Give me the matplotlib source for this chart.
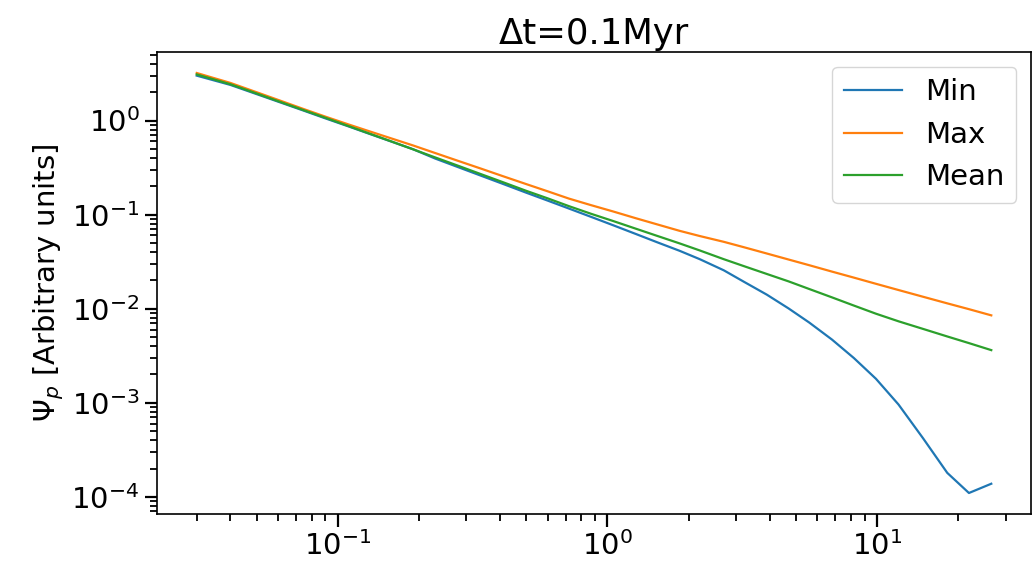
import matplotlib
matplotlib.use("Agg")
import matplotlib.pyplot as plt

x = [0.03, 0.04, 0.05, 0.06, 0.075, 0.09, 0.11, 0.13, 0.16, 0.19, 0.23, 0.28,
     0.34, 0.41, 0.5, 0.6, 0.72, 0.87, 1.05, 1.27, 1.53, 1.85, 2.2, 2.7,
     3.2, 3.9, 4.7, 5.6, 6.8, 8.2, 9.9, 12.0, 14.8, 18.2, 21.9, 26.5]

psi_min = [3.00, 2.39, 1.91, 1.59, 1.27, 1.054, 0.863, 0.728, 0.590, 0.496, 0.394, 0.319,
           0.259, 0.212, 0.171, 0.141, 0.116, 0.0946, 0.0771, 0.0625, 0.0508, 0.0413, 0.0336, 0.0256,
           0.0194, 0.0141, 0.01005, 0.00713, 0.00470, 0.00299, 0.00180, 9.6e-4, 4.2e-4, 1.8e-4, 1.1e-4, 1.38e-4]

psi_max = [3.20, 2.51, 2.00, 1.66, 1.32, 1.10, 0.906, 0.774, 0.638, 0.544, 0.451, 0.372,
           0.308, 0.256, 0.211, 0.177, 0.148, 0.126, 0.108, 0.0918, 0.0787, 0.0673, 0.0592, 0.0514,
           0.0451, 0.0386, 0.0333, 0.0290, 0.0248, 0.0214, 0.0184, 0.0158, 0.0134, 0.0114, 0.00989, 0.0085]

psi_mean = [3.09, 2.43, 1.94, 1.61, 1.285, 1.07, 0.871, 0.733, 0.592, 0.495, 0.405, 0.330,
            0.269, 0.221, 0.179, 0.149, 0.123, 0.102, 0.0855, 0.0711, 0.0594, 0.0495, 0.0416, 0.0336,
            0.0284, 0.0234, 0.0195, 0.0162, 0.0132, 0.0108, 0.00885, 0.00735, 0.00610, 0.00507, 0.00431, 0.00363]

W, H = 1032, 567
fig = plt.figure(figsize=(W / 100, H / 100), dpi=100)
ax = fig.add_axes([157 / W, (H - 514) / H, (1031 - 157) / W, (514 - 52) / H])

ax.plot(x, psi_min, color="#1f77b4", lw=1.6, label="Min")
ax.plot(x, psi_max, color="#ff7f0e", lw=1.6, label="Max")
ax.plot(x, psi_mean, color="#2ca02c", lw=1.6, label="Mean")
ax.set_xscale("log")
ax.set_yscale("log")

fs = 21
ax.set_title("Δt=0.1Myr", fontsize=25.5, pad=6)
ax.set_ylabel(r"$\Psi_p$ [Arbitrary units]", fontsize=fs)
ax.tick_params(which="major", length=9, width=1.6, labelsize=fs)
ax.tick_params(which="minor", length=5, width=1.3)
for s in ax.spines.values():
    s.set_linewidth(1.2)

ax.legend(loc="upper right", fontsize=fs, handlelength=2.0)

fig.savefig("out.png", dpi=100)
